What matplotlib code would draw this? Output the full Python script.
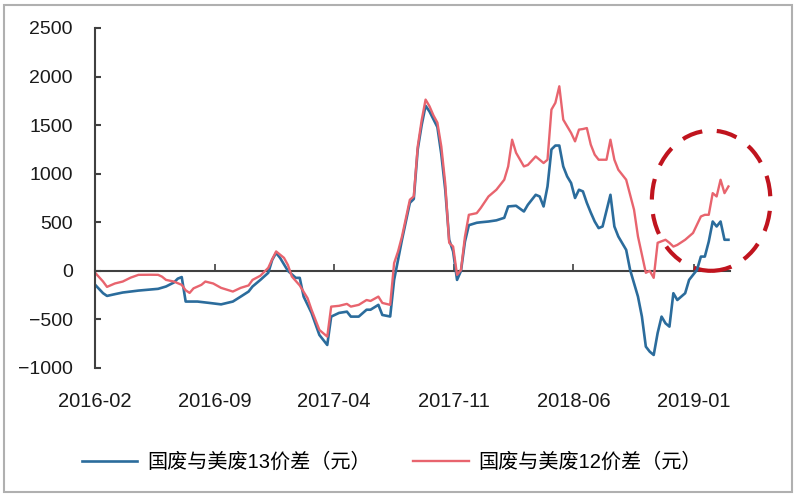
import numpy as np
import pandas as pd
import matplotlib
matplotlib.use('Agg')
import matplotlib.pyplot as plt
import matplotlib.dates as mdates
from matplotlib.patches import Ellipse, Rectangle

plt.rcParams['font.family'] = ['Liberation Sans', 'Noto Sans CJK SC', 'DejaVu Sans']

start = pd.Timestamp('2016-02-01')

# weeks since 2016-02-01 and price spread (元)
blue_weeks = [0, 2, 3, 5, 7, 11, 16, 18, 20, 21, 22, 23, 26, 29, 32, 35, 37, 39, 40, 42,
              44, 45, 46, 47, 49, 51, 52, 53, 55, 57, 59, 60, 62, 64, 65, 67, 69, 70, 72, 73,
              75, 76, 77, 78, 80, 81, 82, 83, 84, 85, 86, 87, 88, 89, 90, 91, 92, 93, 94, 95,
              97, 98, 100, 102, 104, 105, 107, 109, 110, 112, 113, 114, 115, 116, 117, 118, 119, 120, 121, 122,
              123, 124, 125, 126, 127, 128, 129, 131, 132, 133, 135, 136, 138, 139, 140, 141, 142, 143, 144, 145,
              146, 147, 148, 150, 151, 153, 154, 155, 156, 157, 158, 159, 160, 161]
blue_vals = [-144, -230, -258, -240, -223, -203, -185, -161, -120, -80, -64, -316, -316, -330, -345, -316, -265, -213, -161, -93,
             -20, 113, 185, 134, 0, -72, -72, -265, -433, -660, -763, -471, -433, -420, -471, -471, -400, -400, -350, -454,
             -470, -93, 113, 320, 700, 740, 1250, 1500, 1700, 1640, 1560, 1480, 1200, 835, 320, 200, -93, 0, 300, 470,
             495, 500, 508, 520, 546, 663, 670, 611, 680, 783, 766, 663, 869, 1250, 1290, 1290, 1075, 972, 904, 750,
             835, 818, 700, 600, 508, 440, 457, 783, 457, 354, 216, 10, -265, -471, -780, -832, -866, -640, -471, -540,
             -574, -230, -300, -230, -93, 10, 147, 147, 302, 508, 457, 508, 320, 320]

red_weeks = [0, 2, 3, 5, 7, 9, 11, 14, 16, 17, 18, 20, 22, 23, 24, 25, 27, 28, 30, 32,
             35, 37, 39, 40, 42, 44, 45, 46, 48, 49, 50, 52, 54, 55, 57, 59, 60, 62, 64, 65,
             67, 69, 70, 72, 73, 75, 76, 77, 78, 80, 81, 82, 83, 84, 85, 86, 87, 88, 89, 90,
             91, 92, 93, 94, 95, 97, 98, 100, 102, 104, 105, 106, 107, 109, 110, 112, 113, 114, 115, 116,
             117, 118, 119, 120, 121, 122, 123, 124, 125, 126, 127, 128, 130, 131, 132, 133, 135, 137, 138, 140,
             141, 142, 143, 145, 146, 147, 148, 150, 152, 154, 155, 156, 157, 158, 159, 160, 161]
red_vals = [-20, -110, -165, -130, -110, -70, -41, -40, -41, -60, -93, -110, -144, -200, -227, -180, -144, -110, -130, -175,
            -213, -175, -150, -93, -50, 31, 120, 200, 134, 60, -58, -150, -282, -400, -608, -677, -368, -360, -340, -368,
            -350, -300, -310, -265, -330, -350, 80, 200, 354, 732, 766, 1280, 1550, 1763, 1694, 1600, 1526, 1280, 900, 289,
            250, -41, 10, 350, 577, 594, 646, 766, 835, 938, 1075, 1350, 1216, 1075, 1090, 1178, 1144, 1110, 1144, 1660,
            1730, 1900, 1557, 1488, 1420, 1333, 1454, 1460, 1470, 1299, 1196, 1144, 1144, 1350, 1144, 1041, 938, 629, 354, -20,
            0, -72, 289, 320, 289, 250, 267, 320, 390, 560, 577, 577, 800, 766, 938, 800, 869]

tick_labels = ['2016-02', '2016-09', '2017-04', '2017-11', '2018-06', '2019-01']
label_blue = '国废与美废13价差（元）'
label_red = '国废与美废12价差（元）'

blue_dates = start + pd.to_timedelta(np.array(blue_weeks) * 7, unit='D')
red_dates = start + pd.to_timedelta(np.array(red_weeks) * 7, unit='D')

fig = plt.figure(figsize=(8, 5), dpi=100)
ax = fig.add_axes([0.119, 0.264, 0.794, 0.68])

ax.plot(blue_dates, blue_vals, color='#2b6c9c', lw=1.9, label=label_blue)
ax.plot(red_dates, red_vals, color='#e8646e', lw=1.7, label=label_red)

ax.set_ylim(-1000, 2500)
ax.set_yticks(np.arange(-1000, 2501, 500))
ax.set_xlim(start, start + pd.Timedelta(days=161.5 * 7))

ticks = [pd.Timestamp(t + '-01') for t in tick_labels]
ax.set_xticks(ticks)
ax.set_xticklabels(tick_labels)

for s in ['top', 'right', 'bottom']:
    ax.spines[s].set_visible(False)
ax.spines['left'].set_color('#404040')
ax.spines['left'].set_linewidth(1.5)
ax.tick_params(axis='y', direction='in', length=4, width=1.5, color='#404040',
               labelsize=14, pad=16, labelcolor='#1a1a1a')
ax.tick_params(axis='x', length=0, labelsize=14.5, pad=17, labelcolor='#1a1a1a')

# zero line with upward ticks
zero = ax.secondary_xaxis(1000 / 3500)
zero.set_xticks(ticks)
zero.tick_params(direction='in', length=5, width=1.2, color='#404040', labelbottom=False, labeltop=False)
zero.spines['bottom'].set_color('#404040')
zero.spines['bottom'].set_linewidth(1.5)
zero.spines['top'].set_color('#404040')
zero.spines['top'].set_linewidth(1.5)

# dashed highlight circle
cx = mdates.date2num(start + pd.Timedelta(days=156.6 * 7))
ell = Ellipse((cx, 722), width=211, height=1443, fill=False, edgecolor='#c0141e',
              lw=3, ls=(0, (5, 3.5)), clip_on=False)
ax.add_patch(ell)

fig.legend(loc='center', bbox_to_anchor=(0.49, 0.076), ncol=2, frameon=False,
           fontsize=14.5, handlelength=2.75, handletextpad=0.5, columnspacing=2.1)

fig.patches.append(Rectangle((0.005, 0.016), 0.985, 0.974, transform=fig.transFigure,
                             fill=False, edgecolor='#b0b0b0', lw=1.5))

fig.savefig('out.png', dpi=100)
